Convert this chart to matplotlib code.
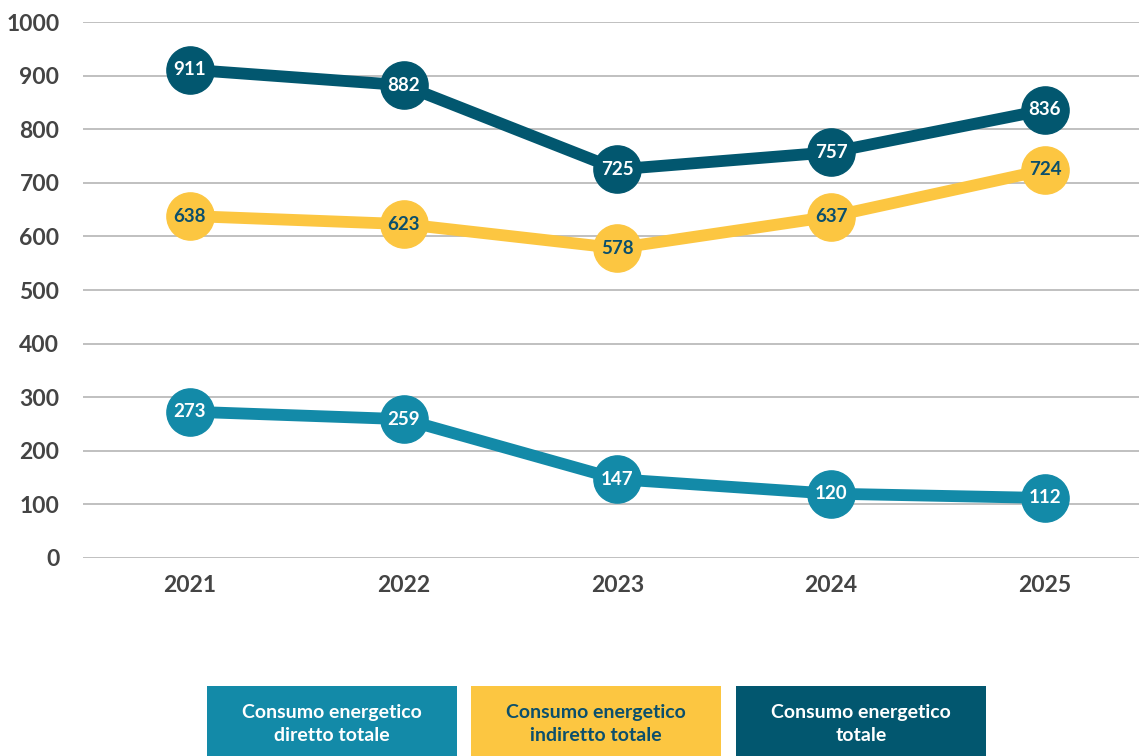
import matplotlib
matplotlib.use("Agg")
import matplotlib.pyplot as plt
from matplotlib.patches import Rectangle

plt.rcParams['font.family'] = ['Lato', 'DejaVu Sans']

# data
years = ["2021", "2022", "2023", "2024", "2025"]
diretto = [273, 259, 147, 120, 112]
indiretto = [638, 623, 578, 637, 724]
totale = [911, 882, 725, 757, 836]

teal = "#138aa8"
yellow = "#fcc641"
navy = "#02576f"

series = [
    (diretto, teal, "white", "Consumo energetico\ndiretto totale"),
    (indiretto, yellow, "#0b4f6c", "Consumo energetico\nindiretto totale"),
    (totale, navy, "white", "Consumo energetico\ntotale"),
]

fig = plt.figure(figsize=(11.39, 7.56), dpi=100)
ax = fig.add_axes([83/1139, 1 - 558/756, 1 - 83/1139, (558 - 22)/756])

x = list(range(len(years)))
for vals, col, tcol, name in series:
    ax.plot(x, vals, color=col, lw=8.5, marker="o", ms=34, solid_capstyle="round",
            zorder=3, clip_on=False)
    for xi, v in zip(x, vals):
        ax.text(xi, v, str(v), ha="center", va="center", color=tcol,
                fontsize=13.5, fontweight="bold", zorder=4)

ax.set_ylim(0, 1000)
ax.set_xlim(-0.5, 4.44)
ax.set_yticks(range(0, 1001, 100))
ax.set_xticks(x)
ax.set_xticklabels(years)
ax.grid(axis="y", color="#bbbbbb", lw=1.3)
ax.set_axisbelow(True)
for s in ax.spines.values():
    s.set_visible(False)
ax.tick_params(length=0, labelsize=16.5, labelcolor="#444444", pad=12)
ax.tick_params(axis="y", pad=17)
for lab in ax.get_xticklabels() + ax.get_yticklabels():
    lab.set_fontweight("bold")

# legend boxes at the bottom
box_x = [207, 471, 736]
for bx, (vals, col, tcol, name) in zip(box_x, series):
    fig.patches.append(Rectangle((bx/1139, 0), 250/1139, 70/756, transform=fig.transFigure,
                                 facecolor=col, edgecolor="none"))
    fig.text((bx + 125)/1139, 32/756, name, ha="center", va="center", color=tcol,
             fontsize=14, fontweight="bold", linespacing=1.45)

fig.savefig("out.png", dpi=100)
